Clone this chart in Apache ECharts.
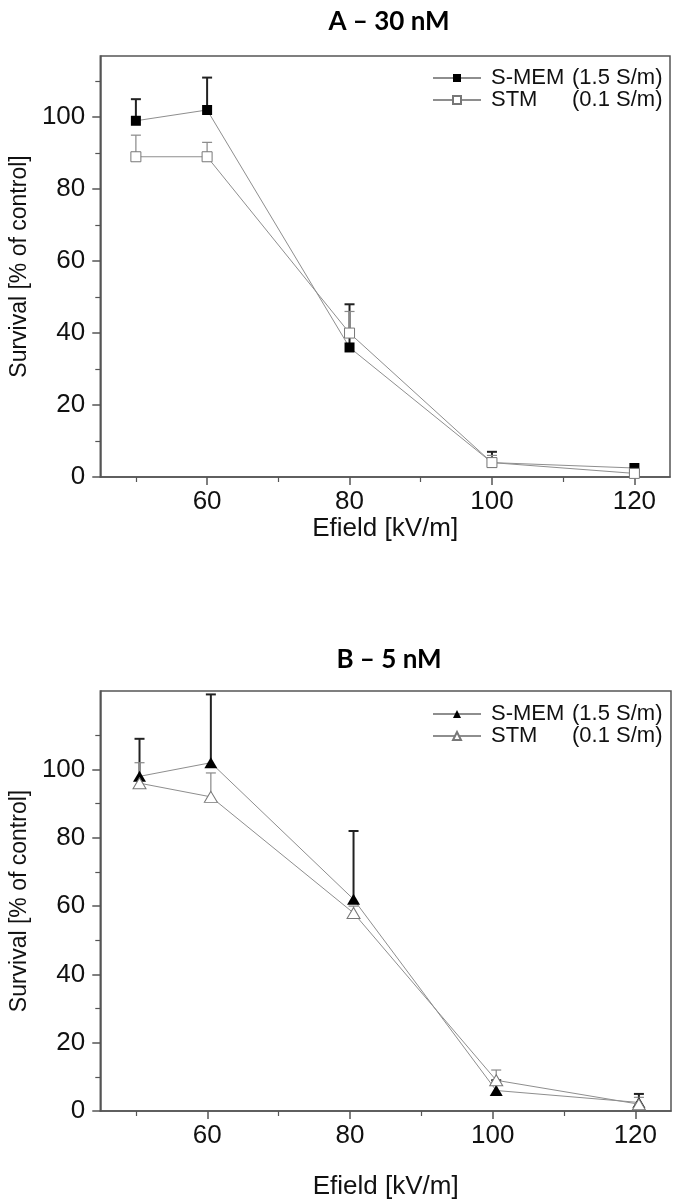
<!DOCTYPE html>
<html>
<head>
    <meta charset="UTF-8">
    <title>Survival vs Efield</title>
    <script src="https://cdn.jsdelivr.net/npm/echarts@6/dist/echarts.min.js"></script>
    <style>
        html, body {margin: 0; padding: 0; background: #fff;}
        #main {width: 675px; height: 1204px;}
    </style>
</head>
<body>
<div id="main"></div>
<script type="text/javascript">
    // panel A - 30 nM
    var efieldA = [50, 60, 80, 100, 120];
    var smemA = [99, 102, 36, 4, 2.5];
    var smemAErr = [6, 9, 12, 3, 0];
    var stmA = [89, 89, 40, 4, 1];
    var stmAErr = [6, 4, 6, 2, 0];

    // panel B - 5 nM
    var efieldB = [50.5, 60.5, 80.5, 100.5, 120.5];
    var smemB = [98, 102, 62, 6, 2.5];
    var smemBErr = [11, 20, 20, 3, 2.5];
    var stmB = [96, 92, 58, 9, 2];
    var stmBErr = [6, 7, 2, 3, 2];

    var xMajor = [60, 80, 100, 120];
    var xMinor = [50, 70, 90, 110];
    var yMajor = [0, 20, 40, 60, 80, 100];
    var yMinor = [10, 30, 50, 70, 90, 110];
    var seriesNames = ['S-MEM (1.5 S/m)', 'STM (0.1 S/m)'];

    var font = 'Liberation Sans, Arial, sans-serif';
    var axisColor = '#555';
    var lineColor = '#8e8e8e';

    function pairs(xs, ys) {
        var out = [];
        for (var i = 0; i < xs.length; i++) out.push([xs[i], ys[i]]);
        return out;
    }

    function errPairs(xs, ys, es) {
        var out = [];
        for (var i = 0; i < xs.length; i++) out.push([xs[i], ys[i], es[i]]);
        return out;
    }

    //upper error bars only
    function errorSeries(grid, xs, ys, es, color, width) {
        return {
            type: 'custom',
            xAxisIndex: grid,
            yAxisIndex: grid,
            z: 1,
            silent: true,
            data: errPairs(xs, ys, es),
            renderItem: function (params, api) {
                var e = api.value(2);
                if (!e) return null;
                var p0 = api.coord([api.value(0), api.value(1)]);
                var p1 = api.coord([api.value(0), api.value(1) + e]);
                var style = {stroke: color, lineWidth: width};
                return {
                    type: 'group',
                    children: [
                        {type: 'line', shape: {x1: p0[0], y1: p0[1], x2: p1[0], y2: p1[1]}, style: style},
                        {type: 'line', shape: {x1: p1[0] - 5, y1: p1[1], x2: p1[0] + 5, y2: p1[1]}, style: style}
                    ]
                };
            }
        };
    }

    function lineSeries(grid, name, xs, ys, symbol, size, filled) {
        return {
            type: 'line',
            name: name,
            xAxisIndex: grid,
            yAxisIndex: grid,
            data: pairs(xs, ys),
            symbol: symbol,
            symbolSize: size,
            showAllSymbol: true,
            z: filled ? 3 : 4,
            lineStyle: {color: lineColor, width: 1},
            itemStyle: filled ? {color: '#000', borderWidth: 0}
                : {color: '#fff', borderColor: '#777', borderWidth: 1},
            emphasis: {disabled: true}
        };
    }

    function xAxisMain(grid) {
        return {
            type: 'value', gridIndex: grid, position: 'bottom', min: 45, max: 125,
            name: 'Efield [kV/m]', nameLocation: 'middle', nameGap: grid === 0 ? 36 : 63,
            nameTextStyle: {fontFamily: font, fontSize: 26, color: '#111'},
            axisLine: {lineStyle: {color: axisColor, width: 1.5}},
            axisTick: {customValues: xMajor, length: 8, lineStyle: {color: axisColor, width: 1.5}},
            axisLabel: {customValues: xMajor, margin: 12, fontFamily: font, fontSize: 26, color: '#111'},
            splitLine: {show: false}
        };
    }

    function xAxisMinor(grid) {
        return {
            type: 'value', gridIndex: grid, position: 'bottom', min: 45, max: 125,
            axisLine: {show: false},
            axisTick: {customValues: xMinor, length: 5, lineStyle: {color: axisColor, width: 1.2}},
            axisLabel: {show: false},
            splitLine: {show: false}
        };
    }

    function yAxisMain(grid, max) {
        return {
            type: 'value', gridIndex: grid, position: 'left', min: 0, max: max,
            name: 'Survival [% of control]', nameLocation: 'middle', nameGap: 68,
            nameTextStyle: {fontFamily: font, fontSize: 23, color: '#111'},
            axisLine: {show: true, lineStyle: {color: axisColor, width: 1.5}},
            axisTick: {show: true, customValues: yMajor, length: 8, lineStyle: {color: axisColor, width: 1.5}},
            axisLabel: {customValues: yMajor, margin: 15, fontFamily: font, fontSize: 26, color: '#111'},
            splitLine: {show: false}
        };
    }

    function yAxisMinor(grid, max) {
        return {
            type: 'value', gridIndex: grid, position: 'left', offset: 0, min: 0, max: max,
            axisLine: {show: false},
            axisTick: {show: true, customValues: yMinor, length: 5, lineStyle: {color: axisColor, width: 1.2}},
            axisLabel: {show: false},
            splitLine: {show: false}
        };
    }

    function legendFor(grid, top) {
        return {
            data: grid === 0 ? [seriesNames[0], seriesNames[1]] : [seriesNames[0] + ' ', seriesNames[1] + ' '],
            orient: 'vertical',
            left: 427,
            top: top,
            itemWidth: 48,
            itemHeight: 10,
            itemGap: 0,
            selectedMode: false,
            formatter: function (name) {
                var k = name.indexOf(' (');
                return '{a|' + name.slice(0, k) + '}{b|' + name.slice(k + 1).trim() + '}';
            },
            textStyle: {
                fontFamily: font, fontSize: 22, color: '#111', lineHeight: 20, padding: [0, 0, 0, 5],
                rich: {
                    a: {fontFamily: font, fontSize: 22, color: '#111', width: 81, lineHeight: 20},
                    b: {fontFamily: font, fontSize: 22, color: '#111', lineHeight: 20}
                }
            }
        };
    }

    var chart = echarts.init(document.getElementById('main'));

    var option = {
        animation: false,
        backgroundColor: '#fff',
        title: [
            {text: 'A – 30 nM', left: 384, top: 4, textAlign: 'center',
                textStyle: {fontFamily: 'Lato, sans-serif', fontWeight: 'bold', fontSize: 26, color: '#000'}},
            {text: 'B – 5 nM', left: 384, top: 642, textAlign: 'center',
                textStyle: {fontFamily: 'Lato, sans-serif', fontWeight: 'bold', fontSize: 26, color: '#000'}}
        ],
        legend: [legendFor(0, 62), legendFor(1, 698)],
        grid: [
            {left: 99, right: 5, top: 56, height: 421, show: true, borderColor: axisColor, borderWidth: 1.5},
            {left: 100, right: 4, top: 691, height: 420, show: true, borderColor: axisColor, borderWidth: 1.5}
        ],
        xAxis: [xAxisMain(0), xAxisMain(1), xAxisMinor(0), xAxisMinor(1)],
        yAxis: [yAxisMain(0, 117), yAxisMain(1, 123), yAxisMinor(0, 117), yAxisMinor(1, 123)],
        series: [
            errorSeries(0, efieldA, smemA, smemAErr, '#222', 2),
            errorSeries(0, efieldA, stmA, stmAErr, '#888', 1.2),
            lineSeries(0, seriesNames[0], efieldA, smemA, 'rect', 10, true),
            lineSeries(0, seriesNames[1], efieldA, stmA, 'rect', 10, false),

            errorSeries(1, efieldB, smemB, smemBErr, '#222', 2),
            errorSeries(1, efieldB, stmB, stmBErr, '#888', 1.2),
            lineSeries(1, seriesNames[0] + ' ', efieldB, smemB, 'triangle', [13, 11], true),
            lineSeries(1, seriesNames[1] + ' ', efieldB, stmB, 'triangle', [13, 11], false)
        ]
    };

    chart.setOption(option);
</script>
</body>
</html>
